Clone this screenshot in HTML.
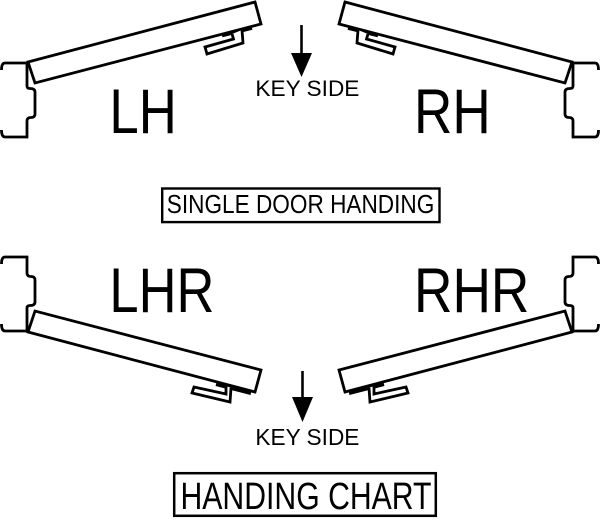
<!DOCTYPE html>
<html>
<head>
<meta charset="utf-8">
<style>
  html, body { margin: 0; padding: 0; background: #fff; }
  svg { display: block; }
  text { font-family: "Liberation Sans", "Helvetica", Arial, sans-serif; fill: #000; }
</style>
</head>
<body>
<svg width="600" height="519" viewBox="0 0 600 519" xmlns="http://www.w3.org/2000/svg">
  <rect width="600" height="519" fill="#fff"/>

  <!-- LEFT HALF -->
  <g fill="none" stroke="#000" stroke-width="2.8" stroke-linejoin="miter">
    <!-- top-left frame -->
    <path d="M1.5,70 Q1.5,63 5,63 L27,63 L27,86 Q27,88.5 30,88.5 Q35,88.5 35,92 L35,114 Q35,117.5 31,117.5 Q27,117.5 27,121 L27,137 L5,137 Q1.5,137 1.5,130"/>
    <!-- top-left door -->
    <polygon points="28,62 255,2 261,24 35,83" fill="#fff"/>
    <!-- top-left hinge -->
    <line x1="222" y1="35.5" x2="252" y2="28" stroke-width="3.6"/>
    <path d="M232,34 L233.5,39 L205,47 L207,54 L243,43 L242,30" fill="#fff"/>

    <!-- bottom-left frame + door (vertical mirror) -->
    <g transform="matrix(1 0 0 -1 0 394)">
      <path d="M1.5,70 Q1.5,63 5,63 L27,63 L27,86 Q27,88.5 30,88.5 Q35,88.5 35,92 L35,114 Q35,117.5 31,117.5 Q27,117.5 27,121 L27,137 L5,137 Q1.5,137 1.5,130"/>
      <polygon points="28,62 255,2 261,24 35,83" fill="#fff"/>
    </g>
    <!-- bottom-left hinge -->
    <line x1="216" y1="384.3" x2="251" y2="393.3" stroke-width="3.6"/>
    <path d="M226,386 L226,394 L194,387 L192,393 L230,402 L231,388" fill="#fff"/>
  </g>

  <!-- RIGHT HALF (horizontal mirror) -->
  <g transform="matrix(-1 0 0 1 600 0)" fill="none" stroke="#000" stroke-width="2.8" stroke-linejoin="miter">
    <path d="M1.5,70 Q1.5,63 5,63 L27,63 L27,86 Q27,88.5 30,88.5 Q35,88.5 35,92 L35,114 Q35,117.5 31,117.5 Q27,117.5 27,121 L27,137 L5,137 Q1.5,137 1.5,130"/>
    <polygon points="28,62 255,2 261,24 35,83" fill="#fff"/>
    <line x1="222" y1="35.5" x2="252" y2="28" stroke-width="3.6"/>
    <path d="M232,34 L233.5,39 L205,47 L207,54 L243,43 L242,30" fill="#fff"/>
    <g transform="matrix(1 0 0 -1 0 394)">
      <path d="M1.5,70 Q1.5,63 5,63 L27,63 L27,86 Q27,88.5 30,88.5 Q35,88.5 35,92 L35,114 Q35,117.5 31,117.5 Q27,117.5 27,121 L27,137 L5,137 Q1.5,137 1.5,130"/>
      <polygon points="28,62 255,2 261,24 35,83" fill="#fff"/>
    </g>
    <line x1="216" y1="384.3" x2="251" y2="393.3" stroke-width="3.6"/>
    <path d="M226,386 L226,394 L194,387 L192,393 L230,402 L231,388" fill="#fff"/>
  </g>

  <!-- KEY SIDE arrows -->
  <line x1="301.5" y1="25" x2="301.5" y2="55" stroke="#000" stroke-width="2.6"/>
  <polygon points="291,53 312,53 301.5,77" fill="#000"/>
  <line x1="302.5" y1="371" x2="302.5" y2="399" stroke="#000" stroke-width="2.6"/>
  <polygon points="292,397 313,397 302.5,422" fill="#000"/>

  <!-- big labels -->
  <text x="109.4" y="133" font-size="63" textLength="67.4" lengthAdjust="spacingAndGlyphs">LH</text>
  <text x="414" y="133" font-size="63" textLength="76.7" lengthAdjust="spacingAndGlyphs">RH</text>
  <text x="109.4" y="312" font-size="63" textLength="105" lengthAdjust="spacingAndGlyphs">LHR</text>
  <text x="414" y="312" font-size="63" textLength="115.4" lengthAdjust="spacingAndGlyphs">RHR</text>

  <!-- key side texts -->
  <text x="255.4" y="96" font-size="22" textLength="104" lengthAdjust="spacingAndGlyphs">KEY SIDE</text>
  <text x="255.4" y="445" font-size="23" textLength="104" lengthAdjust="spacingAndGlyphs">KEY SIDE</text>

  <!-- SINGLE DOOR HANDING box -->
  <rect x="162.2" y="188.5" width="277.3" height="33.6" fill="none" stroke="#000" stroke-width="2.4"/>
  <text x="166.8" y="213" font-size="26" textLength="267.5" lengthAdjust="spacingAndGlyphs">SINGLE DOOR HANDING</text>

  <!-- HANDING CHART box -->
  <rect x="174.2" y="473.2" width="261.6" height="42.6" fill="none" stroke="#000" stroke-width="2.5"/>
  <text x="180.5" y="509" font-size="38" textLength="251" lengthAdjust="spacingAndGlyphs">HANDING CHART</text>
</svg>
</body>
</html>
